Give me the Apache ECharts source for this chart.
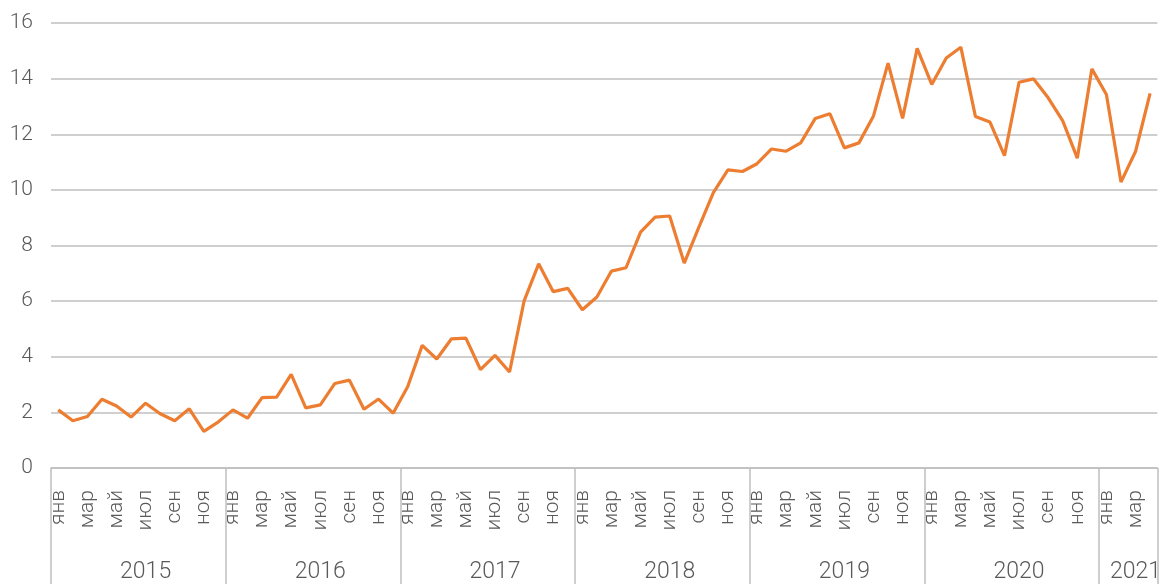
<!DOCTYPE html>
<html>
<head>
<meta charset="utf-8">
<script src="https://cdn.jsdelivr.net/npm/echarts@6/dist/echarts.min.js"></script>
<style>
html,body{margin:0;padding:0;background:#fff;}
#chart{width:1164px;height:584px;}
</style>
</head>
<body>
<div id="chart"></div>
<script>
const monthNames = ['янв','фев','мар','апр','май','июн','июл','авг','сен','окт','ноя','дек'];
const years = ['2015','2016','2017','2018','2019','2020','2021'];
const values = [
  2.09, 1.70, 1.85, 2.47, 2.23, 1.83, 2.33, 1.95, 1.70, 2.13, 1.32, 1.66,
  2.09, 1.79, 2.53, 2.55, 3.37, 2.16, 2.27, 3.04, 3.16, 2.11, 2.48, 1.97,
  2.92, 4.41, 3.92, 4.64, 4.67, 3.54, 4.05, 3.45, 6.01, 7.34, 6.34, 6.46,
  5.69, 6.15, 7.08, 7.20, 8.48, 9.02, 9.06, 7.37, 8.65, 9.90, 10.72, 10.66,
  10.94, 11.47, 11.39, 11.69, 12.57, 12.74, 11.51, 11.69, 12.66, 14.56, 12.57, 15.09,
  13.79, 14.74, 15.13, 12.64, 12.44, 11.23, 13.87, 13.99, 13.31, 12.48, 11.14, 14.35,
  13.43, 10.28, 11.38, 13.47
];
const yTicks = [0, 2, 4, 6, 8, 10, 12, 14, 16];

const monthCats = values.map((v, i) => monthNames[i % 12]);
const yearCats = values.map((v, i) => years[Math.floor(i / 12)]);
const lastIdx = values.length - 1;
function yearLabelIndex(i) {
  const y = Math.floor(i / 12);
  const yearStart = y * 12;
  const yearEnd = Math.min(yearStart + 11, lastIdx);
  const n = yearEnd - yearStart + 1;
  return i === yearStart + (n === 12 ? 6 : Math.floor(n / 2));
}

const gray = '#bfbfbf';
const textColor = '#595959';
const chart = echarts.init(document.getElementById('chart'), null, {renderer: 'canvas'});
chart.setOption({
  animation: false,
  backgroundColor: '#ffffff',
  grid: {left: 51, right: 0, top: 23, bottom: 112, containLabel: false},
  xAxis: [
    {
      type: 'category',
      data: monthCats,
      boundaryGap: true,
      position: 'bottom',
      axisLine: {show: true, lineStyle: {color: gray, width: 1.5}},
      axisTick: {show: false},
      axisLabel: {
        interval: 1,
        rotate: 90,
        margin: 22,
        padding: [0, 0, 8, 0],
        color: textColor,
        fontFamily: 'Roboto',
        fontWeight: 300,
        fontSize: 21
      },
      splitLine: {show: false}
    },
    {
      type: 'category',
      data: yearCats,
      boundaryGap: true,
      position: 'bottom',
      axisLine: {show: false},
      axisTick: {
        show: true,
        interval: function (i) { return i % 12 === 0; },
        length: 120,
        lineStyle: {color: gray, width: 1.5}
      },
      axisLabel: {
        interval: function (i) { return yearLabelIndex(i); },
        margin: 93,
        color: textColor,
        fontFamily: 'Roboto',
        fontWeight: 300,
        fontSize: 23,
        hideOverlap: false
      },
      splitLine: {show: false}
    }
  ],
  yAxis: {
    type: 'value',
    min: yTicks[0],
    max: yTicks[yTicks.length - 1],
    interval: 2,
    axisLine: {show: false},
    axisTick: {show: false},
    axisLabel: {
      margin: 18,
      color: textColor,
      fontFamily: 'Roboto',
      fontWeight: 300,
      fontSize: 21
    },
    splitLine: {show: true, lineStyle: {color: gray, width: 1.5}}
  },
  series: [{
    type: 'line',
    data: values,
    xAxisIndex: 0,
    symbol: 'none',
    lineStyle: {color: '#ED7D31', width: 3.2},
    itemStyle: {color: '#ED7D31'}
  }]
});
</script>
</body>
</html>
